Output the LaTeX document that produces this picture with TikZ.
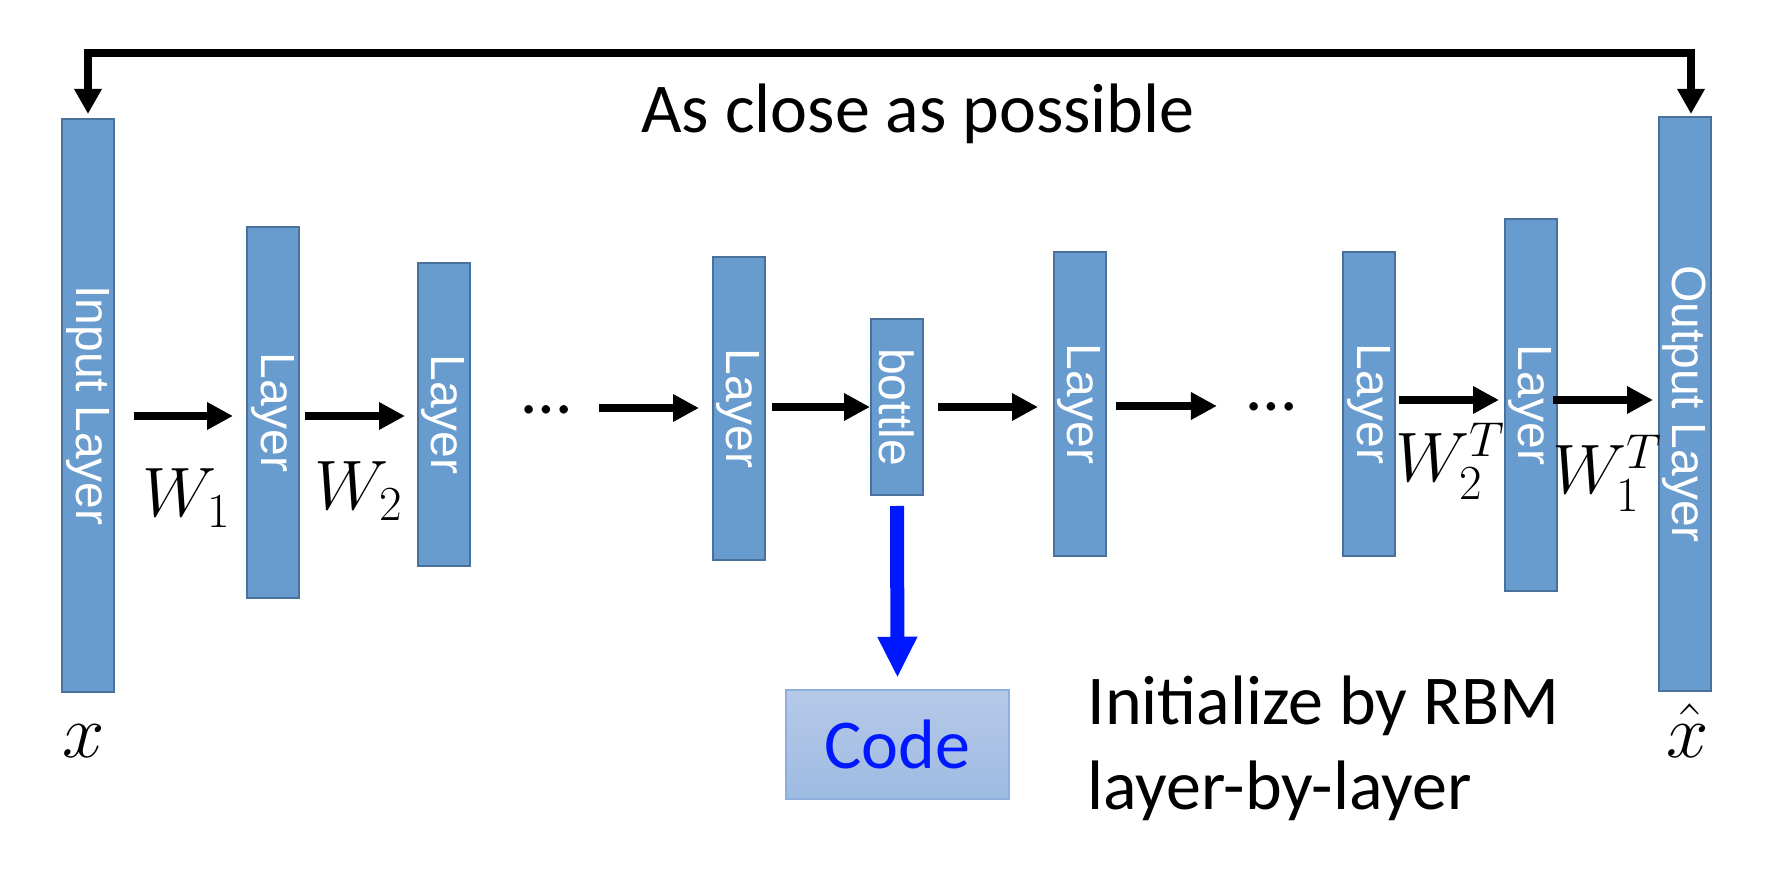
\RequirePackage{fix-cm}
\documentclass[tikz,border=0pt]{standalone}
\usepackage[no-math]{fontspec}
\usepackage{graphicx}
\setmainfont{Carlito}
\newfontfamily\arialfont{Liberation Sans}
\usetikzlibrary{arrows.meta}

\definecolor{layerfill}{RGB}{104,155,206}
\definecolor{layerdraw}{RGB}{74,112,156}
\definecolor{codeblue}{RGB}{0,24,255}
\definecolor{codetop}{RGB}{182,201,232}
\definecolor{codebot}{RGB}{158,187,226}
\definecolor{codedraw}{RGB}{143,175,222}

\tikzset{
  layer/.style={draw=layerdraw,fill=layerfill,line width=1pt,minimum width=26pt,
    inner sep=0pt,text=white,font=\arialfont\fontsize{24}{24}\selectfont},
  fwd/.style={line width=4pt,-{Triangle[length=13pt,width=13pt]}},
  fb/.style={line width=4pt,{Triangle[length=12.5pt,width=13pt]}-{Triangle[length=12.5pt,width=13pt]}},
  tocode/.style={codeblue,line width=7pt,-{Triangle[length=20.5pt,width=18.5pt]}},
  bigtext/.style={inner sep=0pt,font=\fontsize{35}{42.5}\selectfont},
  wlbl/.style={inner sep=0pt,font=\fontsize{35}{42}\selectfont},
  dots/.style={inner sep=0pt,font=\fontsize{35}{35}\selectfont}
}

\begin{document}
\begin{tikzpicture}[x=0.5pt,y=0.5pt]
\useasboundingbox (0,0) rectangle (1782,868);
% layers
\node[layer,minimum height=286.5pt] (in) at (88,462.5) {\rotatebox{-90}{Input Layer}};
\node[layer,minimum height=185.5pt] (l1) at (273,455.5) {\rotatebox{-90}{Layer}};
\node[layer,minimum height=151.5pt] (l2) at (443.5,453.5) {\rotatebox{-90}{Layer}};
\node[layer,minimum height=151.5pt] (l3) at (738.5,459.5) {\rotatebox{-90}{Layer}};
\node[layer,minimum height=88pt] (bottle) at (897,461) {\rotatebox{-90}{bottle}};
\node[layer,minimum height=152pt] (l4) at (1079.5,464) {\rotatebox{-90}{Layer}};
\node[layer,minimum height=152pt] (l5) at (1369,464) {\rotatebox{-90}{Layer}};
\node[layer,minimum height=186pt] (l6) at (1530.5,463) {\rotatebox{-90}{Layer}};
\node[layer,minimum height=287pt] (out) at (1684.5,464) {\rotatebox{-90}{Output Layer}};
\node[dots,anchor=base] (d1) at (547,454) {\ldots};
\node[dots,anchor=base] (d2) at (1272,457) {\ldots};
% forward arrows
\draw[fwd,shorten <=9.5pt,shorten >=6.5pt] (in.east |- 0,452) -- (l1.west |- 0,452);
\draw[fwd,shorten <=2.5pt,shorten >=5.75pt] (l1.east |- 0,452) -- (l2.west |- 0,452);
\draw[fwd,shorten <=13.75pt,shorten >=6.25pt] (d1.east |- 0,460) -- (l3.west |- 0,460);
\draw[fwd,shorten <=3.25pt] (l3.east |- 0,461) -- (bottle.west |- 0,461);
\draw[fwd,shorten <=7pt,shorten >=7.25pt] (bottle.east |- 0,461) -- (l4.west |- 0,461);
\draw[fwd,shorten <=4.75pt,shorten >=15.25pt] (l4.east |- 0,462) -- (d2.west |- 0,462);
\draw[fwd,shorten <=1.5pt,shorten >=2.25pt] (l5.east |- 0,468) -- (l6.west |- 0,468);
\draw[fwd,shorten <=-2.25pt,shorten >=2.25pt] (l6.east |- 0,468) -- (out.west |- 0,468);
% feedback
\draw[fb,shorten <=2pt,shorten >=1pt] (in.north) -- (in.north |- 0,815) -| ([xshift=3.25pt]out.north);
\node[bigtext,anchor=base] (close) at (918,735) {As close as possible};
% code
\node[draw=codedraw,line width=0.75pt,top color=codetop,bottom color=codebot,
  minimum width=111.5pt,minimum height=54.5pt,inner sep=0pt,text=codeblue,
  font=\fontsize{35}{42}\selectfont] (code) at (897.5,123.5) {Code};
\draw[tocode,shorten <=5pt,shorten >=5.75pt] (bottle.south) -- (code.north);
\node[bigtext,anchor=base west,align=left] (init) at (1087,59) {Initialize by RBM\\layer-by-layer};
% weights
\node[wlbl,anchor=base] (w1) at (187,351) {$W_1$};
\node[wlbl,anchor=base] (w2) at (359,358) {$W_2$};
\node[wlbl,anchor=base] (w2t) at (1450,386) {$W_2^T$};
\node[wlbl,anchor=base] (w1t) at (1607,374) {$W_1^T$};
\node[wlbl,anchor=base,font=\fontsize{38}{42}\selectfont] (xin) at (84,111) {$x$};
\node[wlbl,anchor=base,font=\fontsize{38}{42}\selectfont] (xout) at (1688,111) {$\hat{x}$};
\end{tikzpicture}
\end{document}
